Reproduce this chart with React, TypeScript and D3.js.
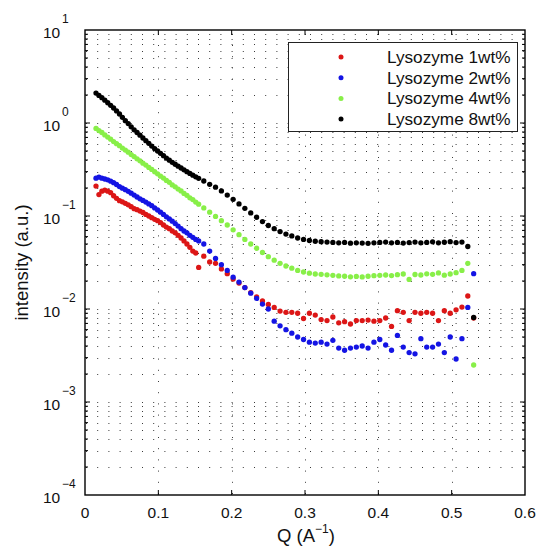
import React, { useEffect, useRef } from "react";
import * as d3 from "d3";

// Q values (A^-1); fine sampling at low Q, coarser further out
const qValues = [
  0.015, 0.019, 0.023, 0.027, 0.031, 0.035, 0.039, 0.043, 0.047, 0.051,
  0.055, 0.059, 0.063, 0.067, 0.071, 0.075, 0.079, 0.083, 0.087, 0.091,
  0.095, 0.099, 0.103, 0.107, 0.111, 0.115, 0.119, 0.123, 0.127, 0.131,
  0.135, 0.139, 0.143, 0.147, 0.151, 0.155,
  0.162, 0.17, 0.178, 0.186, 0.194, 0.202, 0.21, 0.218, 0.226, 0.234,
  0.242, 0.25, 0.258, 0.266, 0.274, 0.282, 0.29, 0.298, 0.306, 0.314,
  0.322, 0.33, 0.338, 0.346, 0.354, 0.362, 0.37, 0.378, 0.386, 0.394,
  0.402, 0.41, 0.418, 0.426, 0.434, 0.442, 0.45, 0.458, 0.466, 0.474,
  0.482, 0.49, 0.498, 0.506, 0.514, 0.522, 0.53,
];

const lyso1 = [
  0.21, 0.17, 0.185, 0.19, 0.185, 0.178, 0.165, 0.155, 0.146, 0.142,
  0.137, 0.132, 0.126, 0.12, 0.117, 0.113, 0.109, 0.104, 0.1, 0.096,
  0.092, 0.089, 0.085, 0.08, 0.076, 0.073, 0.069, 0.066, 0.062, 0.058,
  0.054, 0.05, 0.046, 0.042, 0.04, 0.028,
  0.037, 0.032, 0.031, 0.027, 0.024, 0.021, 0.019, 0.017, 0.015, 0.0135,
  0.0122, 0.0112, 0.0104, 0.0095, 0.0092, 0.0092, 0.009, 0.0079, 0.009, 0.0086,
  0.0077, 0.0075, 0.0082, 0.0071, 0.0073, 0.0069, 0.0075, 0.0075, 0.0076, 0.0074,
  0.0075, 0.008, 0.0065, 0.0096, 0.0092, 0.0075, 0.0092, 0.009, 0.0092, 0.009,
  0.0075, 0.0096, 0.009, 0.0098, 0.0105, 0.0138, 0.008,
];

const lyso2 = [
  0.255, 0.262, 0.255, 0.25, 0.245, 0.237, 0.228, 0.218, 0.207, 0.199,
  0.192, 0.184, 0.176, 0.168, 0.16, 0.153, 0.147, 0.141, 0.135, 0.129,
  0.122, 0.116, 0.11, 0.104, 0.098, 0.093, 0.088, 0.083, 0.078, 0.073,
  0.069, 0.066, 0.062, 0.059, 0.056, 0.054,
  0.05, 0.042, 0.035, 0.03, 0.026, 0.022, 0.0195, 0.017, 0.0148, 0.013,
  0.0113, 0.01, 0.0074, 0.0066, 0.006, 0.0055, 0.005, 0.0047, 0.0044, 0.0043,
  0.0044, 0.0042, 0.0046, 0.0038, 0.0036, 0.0038, 0.0039, 0.004, 0.0038, 0.0044,
  0.0047, 0.0041, 0.0036, 0.0052, 0.0039, 0.0034, 0.0033, 0.0048, 0.0039, 0.0039,
  0.0042, 0.0034, 0.005, 0.0029, 0.0048, 0.0104, 0.024,
];

const lyso4 = [
  0.875, 0.83, 0.79, 0.745, 0.705, 0.67, 0.632, 0.6, 0.57, 0.538,
  0.512, 0.486, 0.458, 0.436, 0.412, 0.392, 0.37, 0.353, 0.333, 0.317,
  0.299, 0.284, 0.268, 0.256, 0.241, 0.23, 0.216, 0.206, 0.195, 0.186,
  0.175, 0.167, 0.157, 0.15, 0.141, 0.134,
  0.122, 0.11, 0.099, 0.089, 0.08, 0.071, 0.063, 0.056, 0.05, 0.045,
  0.0405, 0.0365, 0.0335, 0.031, 0.029, 0.0275, 0.026, 0.025, 0.0243, 0.0238,
  0.0236, 0.0233, 0.023, 0.0227, 0.0225, 0.0222, 0.0224, 0.0221, 0.0225, 0.0228,
  0.023, 0.0232, 0.0229, 0.0234, 0.0238, 0.0208, 0.0235, 0.0232, 0.0239, 0.0236,
  0.0244, 0.0231, 0.0238, 0.0246, 0.026, 0.031, 0.0025,
];

const lyso8 = [
  2.1, 1.98, 1.87, 1.76, 1.65, 1.55, 1.45, 1.35, 1.25, 1.15,
  1.06, 0.985, 0.91, 0.845, 0.79, 0.74, 0.69, 0.645, 0.605, 0.565,
  0.53, 0.5, 0.472, 0.445, 0.42, 0.398, 0.378, 0.36, 0.343, 0.328,
  0.314, 0.3, 0.287, 0.275, 0.264, 0.254,
  0.238, 0.219, 0.204, 0.186, 0.168, 0.151, 0.135, 0.121, 0.108, 0.097,
  0.087, 0.079, 0.073, 0.068, 0.064, 0.061, 0.058, 0.056, 0.0545, 0.0535,
  0.053, 0.0525, 0.052, 0.0515, 0.052, 0.051, 0.0515, 0.0512, 0.0508, 0.0515,
  0.052, 0.0525, 0.0515, 0.052, 0.0512, 0.0518, 0.0525, 0.0515, 0.052, 0.0528,
  0.0515, 0.0522, 0.053, 0.0518, 0.0525, 0.047, 0.0081,
];

const seriesNames = ["Lysozyme 1wt%", "Lysozyme 2wt%", "Lysozyme 4wt%", "Lysozyme 8wt%"];
const seriesColors = ["#dc1616", "#1414e4", "#88ef48", "#000000"];
const xTickValues = [0, 0.1, 0.2, 0.3, 0.4, 0.5, 0.6];
const yDecades = [-4, -3, -2, -1, 0, 1];

const App = () => {
  const svgRef = useRef<SVGSVGElement>(null);

  useEffect(() => {
    const width = 540;
    const height = 554;
    const margin = { top: 30, right: 15, bottom: 59, left: 85 };
    const font = "'Liberation Sans', Arial, Helvetica, sans-serif";

    const svg = d3.select(svgRef.current);
    svg.selectAll("*").remove();

    const x = d3
      .scaleLinear()
      .domain([0, 0.6])
      .range([margin.left, width - margin.right]);
    const y = d3
      .scaleLog()
      .domain([1e-4, 10])
      .range([height - margin.bottom, margin.top]);

    const [x0, x1] = x.range();
    const [y0, y1] = y.range(); // y0 bottom, y1 top

    svg.append("rect").attr("width", width).attr("height", height).attr("fill", "#fff");

    // dotted grid
    const grid = svg
      .append("g")
      .attr("stroke", "#3a3a3a")
      .attr("stroke-width", 1)
      .attr("stroke-dasharray", "1 10.2");
    const logTicks = y.ticks().filter((t) => t > 1e-4 * 1.001 && t < 10 * 0.999);
    grid
      .selectAll("line.h")
      .data(logTicks)
      .enter()
      .append("line")
      .attr("x1", x0 + 1)
      .attr("x2", x1)
      .attr("y1", (d) => Math.round(y(d)) + 0.5)
      .attr("y2", (d) => Math.round(y(d)) + 0.5);
    grid
      .selectAll("line.v")
      .data(xTickValues.slice(1, -1))
      .enter()
      .append("line")
      .attr("x1", (d) => Math.round(x(d)) + 0.5)
      .attr("x2", (d) => Math.round(x(d)) + 0.5)
      .attr("y1", y0 - 1)
      .attr("y2", y1);

    // data
    const allSeries = [lyso1, lyso2, lyso4, lyso8];
    allSeries.forEach((vals, i) => {
      svg
        .append("g")
        .attr("fill", seriesColors[i])
        .selectAll("circle")
        .data(vals)
        .enter()
        .append("circle")
        .attr("cx", (d, j) => x(qValues[j]))
        .attr("cy", (d) => y(d))
        .attr("r", 2.65);
    });

    // frame
    svg
      .append("rect")
      .attr("x", x0)
      .attr("y", y1)
      .attr("width", x1 - x0)
      .attr("height", y0 - y1)
      .attr("fill", "none")
      .attr("stroke", "#000")
      .attr("stroke-width", 1.4);

    // ticks
    const ticks = svg.append("g").attr("stroke", "#000").attr("stroke-width", 1);
    logTicks.forEach((t) => {
      const major = Math.abs(Math.log10(t) - Math.round(Math.log10(t))) < 1e-6;
      const len = major ? 5 : 3;
      const yy = y(t);
      ticks.append("line").attr("x1", x0).attr("x2", x0 + len).attr("y1", yy).attr("y2", yy);
      ticks.append("line").attr("x1", x1).attr("x2", x1 - len).attr("y1", yy).attr("y2", yy);
    });
    xTickValues.slice(1, -1).forEach((t) => {
      const xx = x(t);
      ticks.append("line").attr("x1", xx).attr("x2", xx).attr("y1", y0).attr("y2", y0 - 5);
      ticks.append("line").attr("x1", xx).attr("x2", xx).attr("y1", y1).attr("y2", y1 + 5);
    });

    // x tick labels
    svg
      .append("g")
      .attr("font-family", font)
      .attr("font-size", 15.5)
      .attr("text-anchor", "middle")
      .attr("fill", "#111")
      .selectAll("text")
      .data(xTickValues)
      .enter()
      .append("text")
      .attr("x", (d) => x(d))
      .attr("y", y0 + 23)
      .text((d) => (d === 0 ? "0" : d3.format(".1f")(d)));

    // y tick labels as 10 with superscript exponent
    const yLab = svg.append("g").attr("font-family", font).attr("fill", "#111");
    yDecades.forEach((e) => {
      const yy = y(Math.pow(10, e));
      yLab.append("text").attr("x", 43).attr("y", yy + 8).attr("font-size", 15.5).text("10");
      yLab
        .append("text")
        .attr("x", 62)
        .attr("y", yy - 7)
        .attr("font-size", 12)
        .text(e < 0 ? "\u2212" + Math.abs(e) : String(e));
    });

    // axis labels
    const xl = svg
      .append("text")
      .attr("x", (x0 + x1) / 2 + 1)
      .attr("y", 542)
      .attr("text-anchor", "middle")
      .attr("font-family", font)
      .attr("font-size", 18.5)
      .attr("fill", "#111");
    xl.append("tspan").text("Q (A");
    xl.append("tspan").attr("dy", -9).attr("font-size", 12).text("\u22121");
    xl.append("tspan").attr("dy", 9).text(")");

    svg
      .append("text")
      .attr("transform", `translate(28,${(y0 + y1) / 2}) rotate(-90)`)
      .attr("text-anchor", "middle")
      .attr("font-family", font)
      .attr("font-size", 18.5)
      .attr("fill", "#111")
      .text("intensity (a.u.)");

    // legend
    const legend = svg.append("g");
    legend
      .append("rect")
      .attr("x", 288.5)
      .attr("y", 42.5)
      .attr("width", 229)
      .attr("height", 89)
      .attr("fill", "#fff")
      .attr("stroke", "#222")
      .attr("stroke-width", 1);
    seriesNames.forEach((name, i) => {
      const ry = 57 + i * 20.7;
      legend.append("circle").attr("cx", 341).attr("cy", ry).attr("r", 2.5).attr("fill", seriesColors[i]);
      legend
        .append("text")
        .attr("x", 387)
        .attr("y", ry + 6)
        .attr("font-family", font)
        .attr("font-size", 17.2)
        .attr("fill", "#111")
        .text(name);
    });
  }, []);

  return (
    <svg
      ref={svgRef}
      width={540}
      height={554}
      style={{ position: "absolute", left: 0, top: 0 }}
    />
  );
};

export default App;
